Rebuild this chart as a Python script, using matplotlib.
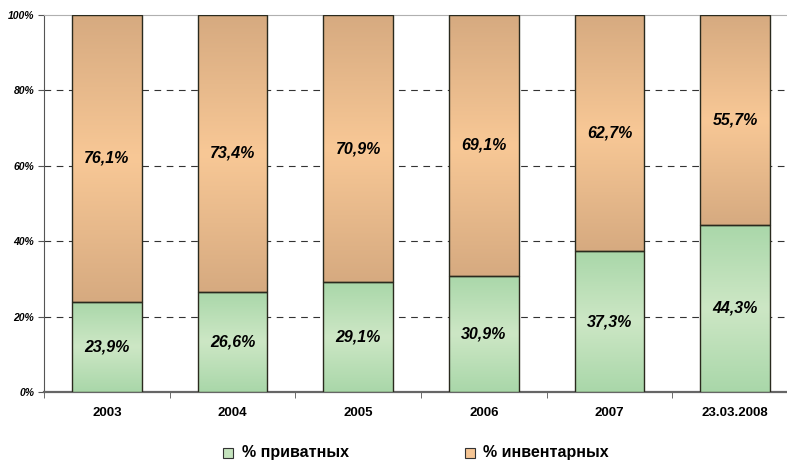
import matplotlib.pyplot as plt
import numpy as np
from matplotlib.colors import LinearSegmentedColormap
from matplotlib.ticker import FixedLocator

plt.rcParams['font.family'] = ['Liberation Sans', 'DejaVu Sans']

categories = ['2003', '2004', '2005', '2006', '2007', '23.03.2008']
private = [23.9, 26.6, 29.1, 30.9, 37.3, 44.3]
inventory = [76.1, 73.4, 70.9, 69.1, 62.7, 55.7]
labels_private = ['23,9%', '26,6%', '29,1%', '30,9%', '37,3%', '44,3%']
labels_inventory = ['76,1%', '73,4%', '70,9%', '69,1%', '62,7%', '55,7%']

green_cmap = LinearSegmentedColormap.from_list('g', ['#a9d7a9', '#cde7c5', '#a9d7a9'])
orange_cmap = LinearSegmentedColormap.from_list('o', ['#d6aa80', '#f8c896', '#d6aa80'])

fig = plt.figure(figsize=(7.87, 4.62), dpi=100)
ax = fig.add_axes([44 / 787, 70 / 462, 754 / 787, 377 / 462])

x = np.arange(len(categories))
width = 0.557
grad = np.linspace(0, 1, 256).reshape(-1, 1)

b1 = ax.bar(x, private, width, color='#b8ddb2', edgecolor='#2a2a1e', linewidth=1, zorder=3)
b2 = ax.bar(x, inventory, width, bottom=private, color='#eabc8c', edgecolor='#2a2a1e', linewidth=1, zorder=3)

for bars, cmap in ((b1, green_cmap), (b2, orange_cmap)):
    for r in bars:
        x0, y0 = r.get_x(), r.get_y()
        im = ax.imshow(grad, cmap=cmap, aspect='auto', origin='lower',
                       extent=(x0, x0 + r.get_width(), y0, y0 + r.get_height()), zorder=3.5)
        im.set_clip_path(r)
        r.set_facecolor('none')
        r.set_zorder(4)

for i in range(len(categories)):
    ax.text(x[i], private[i] / 2, labels_private[i], ha='center', va='center',
            fontsize=11.5, fontweight='bold', style='italic', zorder=5)
    ax.text(x[i], private[i] + inventory[i] / 2, labels_inventory[i], ha='center', va='center',
            fontsize=11.5, fontweight='bold', style='italic', zorder=5)

ax.set_xlim(-0.5, len(categories) - 0.5)
ax.set_ylim(0, 100)
ax.set_yticks([0, 20, 40, 60, 80, 100])
ax.set_yticklabels(['0%', '20%', '40%', '60%', '80%', '100%'], fontsize=7.5, fontweight='bold', style='italic')
ax.set_xticks(x)
ax.set_xticklabels(categories, fontsize=9.5, fontweight='bold')
ax.tick_params(axis='x', length=0, pad=11)
ax.xaxis.set_minor_locator(FixedLocator(np.arange(-0.5, len(categories), 1)))
ax.tick_params(axis='x', which='minor', length=4, color='#555555')
ax.tick_params(axis='y', length=4, color='#555555', pad=3)

for yv in [20, 40, 60, 80]:
    ax.axhline(yv, color='#333333', linestyle=(0, (6, 5)), linewidth=0.8, zorder=1)

ax.spines['top'].set_color('#b0b0b0')
ax.spines['right'].set_visible(False)
ax.spines['left'].set_color('#555555')
ax.spines['bottom'].set_color('#666666')
ax.spines['bottom'].set_linewidth(1.6)

# legend
fig.patches.append(plt.Rectangle((223 / 787, 1 - 458 / 462), 10 / 787, 10 / 462, transform=fig.transFigure,
                                 facecolor='#c4e3bd', edgecolor='#333333', linewidth=0.8))
fig.text(242 / 787, 1 - 453 / 462, '% приватных', fontsize=11.5, fontweight='bold', va='center')
fig.patches.append(plt.Rectangle((465 / 787, 1 - 458 / 462), 10 / 787, 10 / 462, transform=fig.transFigure,
                                 facecolor='#f5c594', edgecolor='#333333', linewidth=0.8))
fig.text(483 / 787, 1 - 453 / 462, '% инвентарных', fontsize=11.5, fontweight='bold', va='center')

fig.savefig('out.png', dpi=100)
